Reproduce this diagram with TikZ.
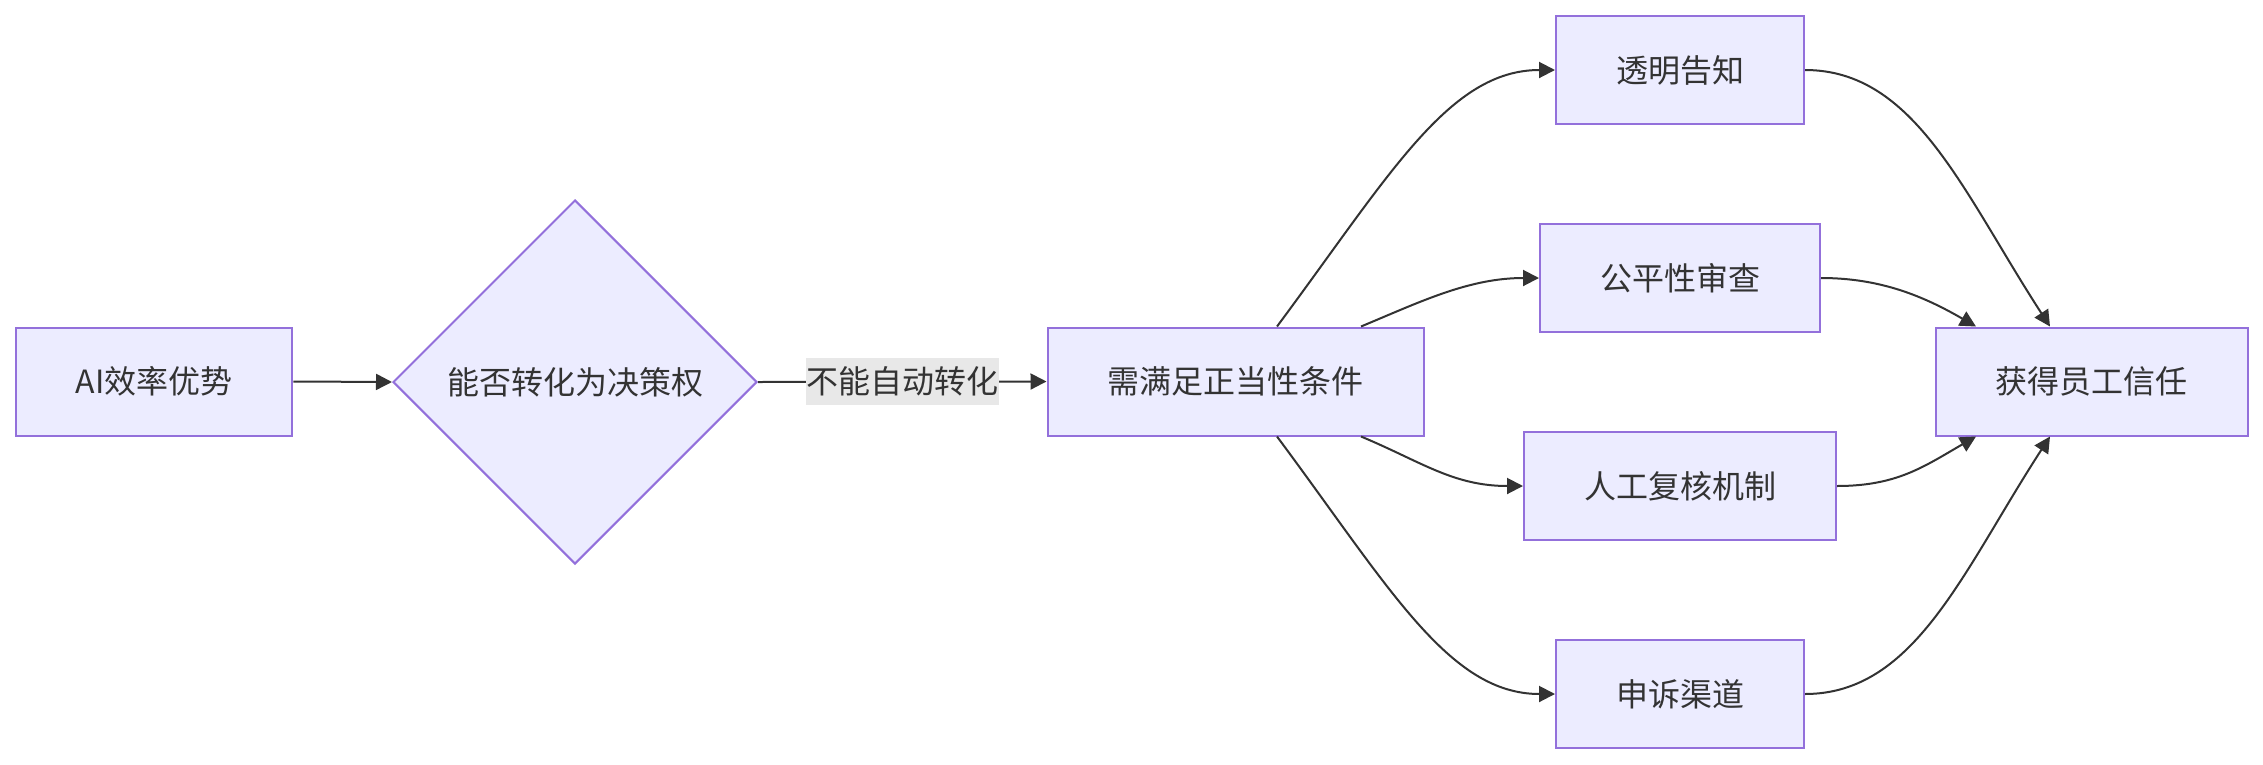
\documentclass[tikz,border=0pt]{standalone}
\usepackage{fontspec}
\setmainfont{Noto Sans CJK SC}
\usetikzlibrary{shapes.geometric,arrows.meta}
\definecolor{nodefill}{HTML}{ECECFF}
\definecolor{nodeline}{HTML}{9370DB}
\definecolor{ink}{HTML}{333333}
\definecolor{lblfill}{HTML}{E8E8E8}
\begin{document}
\begin{tikzpicture}[x=1pt,y=-1pt,
    box/.style={rectangle, draw=nodeline, fill=nodefill, line width=2pt, minimum height=108pt, inner xsep=60pt, text=ink, font=\fontsize{32}{38}\selectfont},
    decision/.style={diamond, draw=nodeline, fill=nodefill, line width=2pt, minimum width=364pt, minimum height=364pt, inner sep=0pt, text=ink, font=\fontsize{32}{38}\selectfont},
    lbl/.style={fill=lblfill, text=ink, inner xsep=0.5pt, inner ysep=0pt, minimum height=47pt, font=\fontsize{32}{38}\selectfont},
    link/.style={line width=2pt, draw=ink, -{Triangle[length=16pt,width=16pt]}}]
        \useasboundingbox (0,0) rectangle (2263,764);

        \node[box] (ai) at (154, 381.5) {AI效率优势};
        \node[decision] (conv) at (575, 382) {能否转化为决策权};
        \node[box] (need) at (1235.5, 381.5) {需满足正当性条件};
        \node[box] (notice) at (1680, 70) {透明告知};
        \node[box] (fair) at (1680, 278) {公平性审查};
        \node[box] (review) at (1680, 486) {人工复核机制};
        \node[box] (appeal) at (1680, 694) {申诉渠道};
        \node[box] (trust) at (2091.5, 381.5) {获得员工信任};

        \draw[link] (ai.east) -- (conv.west);
        \draw[link] (conv.east) -- node[lbl] {不能自动转化} (need.west);
        \draw[link] ([xshift=41.5pt]need.north) .. controls +(113,-152) and +(-106,0) .. (notice.west);
        \draw[link] ([xshift=125.5pt]need.north) .. controls +(60,-25) and +(-70,0) .. (fair.west);
        \draw[link] ([xshift=125.5pt]need.south) .. controls +(60,25) and +(-70,0) .. (review.west);
        \draw[link] ([xshift=41.5pt]need.south) .. controls +(113,152) and +(-106,0) .. (appeal.west);
        \draw[link] (notice.east) .. controls +(110,0) and +(-87,-134) .. ([xshift=-41.5pt]trust.north);
        \draw[link] (fair.east) .. controls +(60,0) and +(-52,-30) .. ([xshift=-115.5pt]trust.north);
        \draw[link] (review.east) .. controls +(60,0) and +(-52,30) .. ([xshift=-115.5pt]trust.south);
        \draw[link] (appeal.east) .. controls +(110,0) and +(-87,134) .. ([xshift=-41.5pt]trust.south);

    \end{tikzpicture}
\end{document}
